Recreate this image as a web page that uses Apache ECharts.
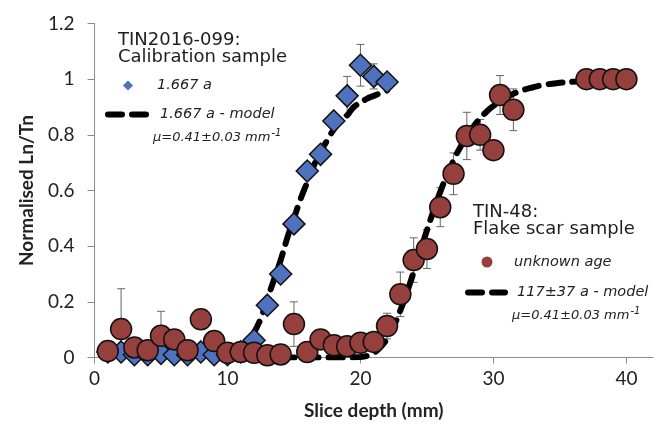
<!DOCTYPE html>
<html>
<head>
<meta charset="utf-8">
<script src="https://cdn.jsdelivr.net/npm/echarts@6/dist/echarts.min.js"></script>
<style>
  html, body { margin: 0; padding: 0; background: #fff; }
  #chart { width: 660px; height: 429px; }
</style>
</head>
<body>
<div id="chart"></div>
<script>
// TIN2016-099 calibration sample, 1.667 a
var calX = [1, 2, 3, 4, 5, 6, 7, 8, 9, 10, 11, 12, 13, 14, 15, 16, 17, 18, 19, 20, 21, 22];
var calY = [0.02, 0.02, 0.01, 0.01, 0.015, 0.01, 0.01, 0.02, 0.01, 0.01, 0.02, 0.062,
            0.188, 0.30, 0.48, 0.67, 0.73, 0.85, 0.94, 1.05, 1.01, 0.99];
var calErr = [0, 0, 0, 0, 0, 0, 0, 0, 0, 0, 0, 0, 0, 0, 0, 0, 0, 0, 0.07, 0.075, 0.045, 0];

// 1.667 a - model
var calModelX = [9, 10, 10.5, 11, 11.5, 12, 12.5, 13, 13.5, 14, 14.5, 15, 15.5, 16, 16.5,
                 17, 17.5, 18, 18.5, 19, 19.5, 20, 20.5, 21, 21.5, 22];
var calModelY = [0, 0.01, 0.015, 0.03, 0.055, 0.09, 0.14, 0.21, 0.28, 0.35, 0.43, 0.50, 0.57,
                 0.63, 0.69, 0.74, 0.78, 0.82, 0.85, 0.87, 0.90, 0.915, 0.93, 0.94, 0.95, 0.96];

// TIN-48 flake scar sample, unknown age
var scarX = [1, 2, 3, 4, 5, 6, 7, 8, 9, 10, 11, 12, 13, 14, 15, 16, 17, 18, 19, 20, 21, 22,
             23, 24, 25, 26, 27, 28, 29, 30, 30.5, 31.5, 37, 38, 39, 40];
var scarY = [0.023, 0.102, 0.036, 0.026, 0.078, 0.065, 0.026, 0.137, 0.059, 0.017, 0.02, 0.017,
             0.008, 0.011, 0.12, 0.02, 0.065, 0.044, 0.04, 0.053, 0.056, 0.113,
             0.227, 0.35, 0.39, 0.54, 0.66, 0.796, 0.80, 0.745, 0.943, 0.89, 1, 1, 1, 1];
var scarErr = [0, 0.145, 0, 0, 0.088, 0, 0, 0, 0, 0, 0, 0, 0, 0, 0.08, 0, 0, 0, 0, 0, 0, 0.046,
               0.08, 0.08, 0.07, 0.07, 0.075, 0.085, 0.055, 0, 0.07, 0.075, 0, 0, 0, 0];

// 117±37 a - model
var scarModelX = [14, 18, 20, 21, 21.5, 22, 22.5, 23, 23.5, 24, 24.5, 25, 25.5, 26, 26.5, 27,
                  27.5, 28, 28.5, 29, 29.5, 30, 31, 32, 33, 34, 35, 36, 37, 38, 40];
var scarModelY = [0, 0, 0.002, 0.018, 0.037, 0.068, 0.113, 0.169, 0.235, 0.307, 0.382, 0.457,
                  0.528, 0.595, 0.654, 0.708, 0.755, 0.795, 0.83, 0.859, 0.884, 0.904, 0.935,
                  0.957, 0.971, 0.981, 0.987, 0.991, 0.993, 0.995, 0.997];

var xTicks = [0, 10, 20, 30, 40];

function zip(xs, ys) {
  return xs.map(function (x, i) { return [x, ys[i]]; });
}
function errData(xs, ys, es) {
  var out = [];
  xs.forEach(function (x, i) { if (es[i] > 0) out.push([x, ys[i], es[i]]); });
  return out;
}

function renderErr(params, api) {
  var x = api.value(0), y = api.value(1), e = api.value(2);
  var hi = api.coord([x, y + e]);
  var lo = api.coord([x, y - e]);
  var w = 4;
  var st = { stroke: '#666', lineWidth: 1 };
  return {
    type: 'group',
    children: [
      { type: 'line', shape: { x1: hi[0], y1: hi[1], x2: lo[0], y2: lo[1] }, style: st },
      { type: 'line', shape: { x1: hi[0] - w, y1: hi[1], x2: hi[0] + w, y2: hi[1] }, style: st },
      { type: 'line', shape: { x1: lo[0] - w, y1: lo[1], x2: lo[0] + w, y2: lo[1] }, style: st }
    ]
  };
}

var blue = '#4f72be';
var red = '#96403e';
var dash = [14, 10];
var lblFont = 'Lato';
var legFont = 'DejaVu Sans';

// one legend block per row so each icon keeps its own size
function legendRow(left, top, w, h, padLeft, item) {
  return {
    orient: 'vertical',
    left: left,
    top: top,
    padding: 0,
    itemWidth: w,
    itemHeight: h,
    selectedMode: false,
    textStyle: { fontFamily: legFont, fontStyle: 'italic', fontSize: 14.5, color: '#222', padding: [0, 0, 0, padLeft] },
    data: [item]
  };
}
var modelLegendLine = { color: '#000', width: 6, type: dash, cap: 'round' };

function headText(x, y, t) {
  return { type: 'text', x: x, y: y, style: { text: t, fontFamily: legFont, fontSize: 18, fill: '#1e1e1e', verticalAlign: 'middle' } };
}
function muText(x, y) {
  return { type: 'text', x: x, y: y, style: {
    text: '{a|μ=0.41±0.03 mm}{b|-1}', verticalAlign: 'middle', fill: '#222',
    rich: {
      a: { fontFamily: legFont, fontStyle: 'italic', fontSize: 13, fill: '#222' },
      b: { fontFamily: legFont, fontStyle: 'italic', fontSize: 10, fill: '#222', padding: [0, 0, 9, 1] }
    } } };
}

var chart = echarts.init(document.getElementById('chart'));

var option = {
  backgroundColor: '#fff',
  animation: false,
  grid: { left: 94.5, right: 7, top: 23.5, bottom: 71.5 },
  xAxis: {
    type: 'value',
    min: 0,
    max: 42,
    interval: 10,
    name: 'Slice depth (mm)',
    nameLocation: 'middle',
    nameGap: 44,
    nameTextStyle: { fontFamily: lblFont, fontWeight: 'bold', fontSize: 19, color: '#222' },
    axisLine: { lineStyle: { color: '#8c8c8c', width: 1 } },
    axisTick: { show: true, length: 6, customValues: xTicks, lineStyle: { color: '#8c8c8c' } },
    axisLabel: { customValues: xTicks, margin: 12, fontFamily: lblFont, fontSize: 19, color: '#222' },
    splitLine: { show: false }
  },
  yAxis: {
    type: 'value',
    min: 0,
    max: 1.2,
    interval: 0.2,
    name: 'Normalised Ln/Tn',
    nameLocation: 'middle',
    nameGap: 58,
    nameTextStyle: { fontFamily: lblFont, fontWeight: 'bold', fontSize: 19, color: '#222' },
    axisLine: { show: true, lineStyle: { color: '#8c8c8c', width: 1 } },
    axisTick: { show: true, length: 7, lineStyle: { color: '#8c8c8c' } },
    axisLabel: { margin: 20, fontFamily: lblFont, fontSize: 19, color: '#222' },
    splitLine: { show: false }
  },
  legend: [
    legendRow(123, 78, 10, 10, 19, { name: '1.667 a', icon: 'diamond', itemStyle: { color: blue, borderWidth: 0 } }),
    legendRow(105, 107, 38, 10, 9, { name: '1.667 a - model', itemStyle: { opacity: 0 }, lineStyle: modelLegendLine }),
    legendRow(481.5, 254.5, 11, 11, 16.5, { name: 'unknown age', icon: 'circle', itemStyle: { color: red, borderWidth: 0 } }),
    legendRow(465, 285, 37, 10, 7, { name: '117±37 a - model', itemStyle: { opacity: 0 }, lineStyle: modelLegendLine })
  ],
  graphic: [
    headText(118, 40, 'TIN2016-099:'),
    headText(118, 57, 'Calibration sample'),
    muText(153, 138),
    headText(473, 212, 'TIN-48:'),
    headText(473, 229, 'Flake scar sample'),
    muText(512, 316)
  ],
  series: [
    {
      name: 'cal err',
      type: 'custom',
      renderItem: renderErr,
      clip: true,
      z: 1,
      data: errData(calX, calY, calErr)
    },
    {
      name: 'scar err',
      type: 'custom',
      renderItem: renderErr,
      clip: true,
      z: 1,
      data: errData(scarX, scarY, scarErr)
    },
    {
      name: '1.667 a - model',
      type: 'line',
      smooth: true,
      symbol: 'none',
      z: 2,
      itemStyle: { color: '#000' },
      lineStyle: { color: '#000', width: 6, type: dash, cap: 'round' },
      data: zip(calModelX, calModelY)
    },
    {
      name: '117±37 a - model',
      type: 'line',
      smooth: true,
      symbol: 'none',
      z: 2,
      itemStyle: { color: '#000' },
      lineStyle: { color: '#000', width: 6, type: dash, cap: 'round' },
      data: zip(scarModelX, scarModelY)
    },
    {
      name: '1.667 a',
      type: 'scatter',
      symbol: 'diamond',
      symbolSize: 22,
      z: 3,
      itemStyle: { color: blue, borderColor: '#111', borderWidth: 1.5, opacity: 1 },
      data: zip(calX, calY)
    },
    {
      name: 'unknown age',
      type: 'scatter',
      symbol: 'circle',
      symbolSize: 21,
      z: 4,
      itemStyle: { color: red, borderColor: '#111', borderWidth: 1.5, opacity: 1 },
      data: zip(scarX, scarY)
    }
  ]
};

chart.setOption(option);
</script>
</body>
</html>
